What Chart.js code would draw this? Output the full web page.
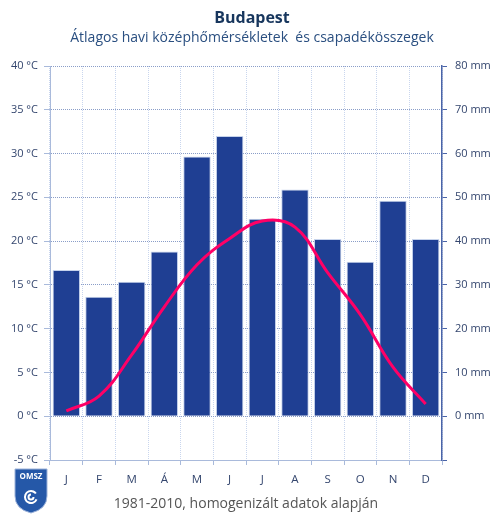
<!DOCTYPE html>
<html>
<head>
<meta charset="utf-8">
<script src="https://cdn.jsdelivr.net/npm/chart.js@4.4.1/dist/chart.umd.min.js"></script>
<style>
  html, body { margin: 0; padding: 0; background: #fff; }
  #wrap { width: 493px; height: 514px; }
</style>
</head>
<body>
<div id="wrap"><canvas id="grafico" width="493" height="514"></canvas></div>
<script>
// adatok
const honapok = ["J", "F", "M", "Á", "M", "J", "J", "A", "S", "O", "N", "D"];
const homerseklet = [0.6, 2.3, 7.0, 12.5, 17.3, 20.3, 22.3, 21.6, 16.4, 11.6, 5.6, 1.4];
const csapadek = [33.4, 27.3, 30.7, 37.6, 59.3, 64.0, 45.1, 51.8, 40.5, 35.3, 49.2, 40.5];

const cim = "Budapest";
const alcim = "Átlagos havi középhőmérsékletek  és csapadékösszegek";
const megjegyzes = "1981-2010, homogenizált adatok alapján";

const betu = '"Open Sans", "DejaVu Sans", sans-serif';
const szovegSzin = "#34466E";

// cím és logó rajzolása
const feliratok = {
  id: "feliratok",
  afterDraw(chart) {
    const c = chart.ctx;
    c.save();
    c.textAlign = "center";
    c.textBaseline = "middle";
    c.fillStyle = "#17365D";
    c.font = "bold 16px " + betu;
    c.fillText(cim, 252, 18);
    c.fillStyle = "#2A4F80";
    c.font = "14px " + betu;
    c.fillText(alcim, 252, 38);

    // OMSZ logó
    c.beginPath();
    c.moveTo(15, 469);
    c.lineTo(47, 469);
    c.lineTo(47, 496);
    c.quadraticCurveTo(47, 509, 31, 513);
    c.quadraticCurveTo(15, 509, 15, 496);
    c.closePath();
    c.fillStyle = "#2558A8";
    c.fill();
    c.strokeStyle = "#9DB3DA";
    c.lineWidth = 1;
    c.stroke();
    c.fillStyle = "#fff";
    c.font = "bold 8px " + betu;
    c.fillText("OMSZ", 31, 477);
    c.strokeStyle = "#fff";
    c.lineWidth = 2;
    c.beginPath();
    c.arc(31, 497, 6, 0.4, Math.PI * 1.8);
    c.stroke();
    c.beginPath();
    c.arc(31, 497, 2.5, 0, Math.PI * 1.5);
    c.stroke();
    c.restore();
  },
};

const canvas = document.getElementById("grafico");

new Chart(canvas, {
  data: {
    labels: honapok,
    datasets: [
      {
        type: "line",
        label: "Hőmérséklet",
        data: homerseklet,
        yAxisID: "y",
        borderColor: "#FF0066",
        borderWidth: 3,
        pointRadius: 0,
        tension: 0.4,
        order: 0,
      },
      {
        type: "bar",
        label: "Csapadék",
        data: csapadek,
        yAxisID: "y2",
        backgroundColor: "#1F3F93",
        borderColor: "#C6D3EC",
        borderWidth: 1,
        barPercentage: 0.84,
        categoryPercentage: 1,
        order: 1,
      },
    ],
  },
  options: {
    responsive: false,
    animation: false,
    layout: { padding: { top: 66, left: 0, right: 0, bottom: 0 } },
    plugins: {
      legend: { display: false },
      tooltip: { enabled: false },
    },
    scales: {
      x: {
        afterFit: (s) => { s.height = 54; },
        grid: { color: "#C9D6EE", tickLength: 5, tickColor: "#A9BADB", offset: true },
        border: { color: "#A9BADB", dash: [1, 1] },
        ticks: { color: szovegSzin, font: { family: betu, size: 11.5 }, padding: 8 },
        title: {
          display: true,
          text: megjegyzes,
          color: "#555",
          font: { family: betu, size: 14 },
          padding: { top: 0, bottom: 2 },
        },
      },
      y: {
        position: "left",
        min: -5,
        max: 40,
        afterFit: (s) => { s.width = 50; },
        grid: { color: "#8A9DC8", tickLength: 6, tickColor: "#A9BADB" },
        border: { color: "#A9BADB", dash: [1, 1] },
        ticks: {
          stepSize: 5,
          color: szovegSzin,
          font: { family: betu, size: 11 },
          padding: 6,
          callback: (v) => v + " °C",
        },
      },
      y2: {
        position: "right",
        min: -10,
        max: 80,
        afterFit: (s) => { s.width = 51; },
        grid: { drawOnChartArea: false, tickLength: 5, tickColor: "#4A64A8" },
        border: { color: "#4A64A8", width: 1.5 },
        ticks: {
          stepSize: 10,
          color: szovegSzin,
          font: { family: betu, size: 11 },
          padding: 8,
          callback: (v) => (v < 0 ? "" : v + " mm"),
        },
      },
    },
  },
  plugins: [feliratok],
});
</script>
</body>
</html>
